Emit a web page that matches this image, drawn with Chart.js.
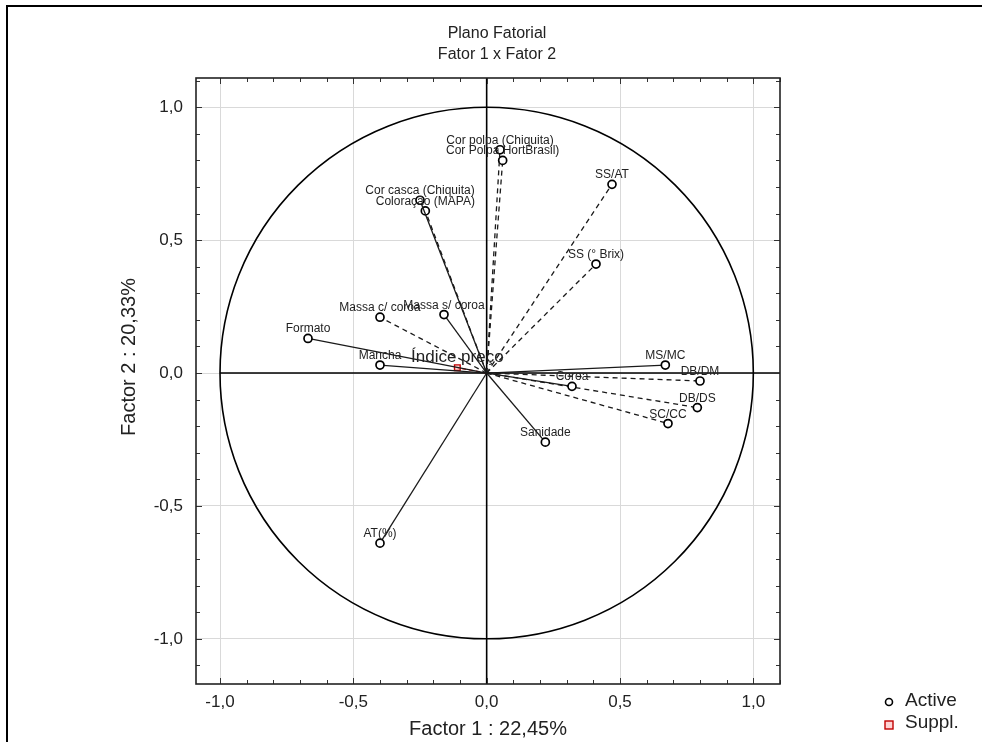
<!DOCTYPE html>
<html>
<head>
<meta charset="utf-8">
<script src="https://cdn.jsdelivr.net/npm/chart.js@4"></script>
<style>
  html, body { margin: 0; padding: 0; background: #fff; }
  #wrap { width: 982px; height: 742px; }
</style>
</head>
<body>
<div id="wrap"><canvas id="pca" width="982" height="742"></canvas></div>
<script>
// active variables (loadings on factor 1 and factor 2)
const varNames = ['Cor polpa (Chiquita)', 'Cor Polpa HortBrasil)', 'Cor casca (Chiquita)', 'Coloração (MAPA)',
  'SS/AT', 'SS (° Brix)', 'Massa c/ coroa', 'Massa s/ coroa', 'Formato', 'Mancha',
  'MS/MC', 'DB/DM', 'Coroa', 'DB/DS', 'SC/CC', 'Sanidade', 'AT(%)'];
const factor1 = [0.05, 0.06, -0.25, -0.23, 0.47, 0.41, -0.40, -0.16, -0.67, -0.40,
  0.67, 0.80, 0.32, 0.79, 0.68, 0.22, -0.40];
const factor2 = [0.84, 0.80, 0.65, 0.61, 0.71, 0.41, 0.21, 0.22, 0.13, 0.03,
  0.03, -0.03, -0.05, -0.13, -0.19, -0.26, -0.64];

// supplementary variable
const suppNames = ['Índice preço'];
const suppF1 = [-0.11];
const suppF2 = [0.02];

const tickValues = [-1, -0.5, 0, 0.5, 1];

// which vectors are drawn dashed in the original
const dashedVars = ['Cor polpa (Chiquita)', 'Cor Polpa HortBrasil)', 'Coloração (MAPA)', 'SS/AT', 'SS (° Brix)',
  'Massa c/ coroa', 'DB/DM', 'DB/DS', 'SC/CC'];

const FONT = '"Liberation Sans", Arial, sans-serif';
const fmt = v => v.toFixed(1).replace('.', ',');

const datasets = varNames.map((name, i) => ({
  label: name,
  data: [{ x: 0, y: 0 }, { x: factor1[i], y: factor2[i] }],
  showLine: true,
  borderColor: '#1a1a1a',
  borderWidth: 1.3,
  borderDash: dashedVars.includes(name) ? [5, 4] : [],
  pointRadius: [0, 4],
  pointStyle: 'circle',
  pointBorderColor: '#000',
  pointBackgroundColor: '#fff',
  pointBorderWidth: 1.7,
  labelFont: '12px ' + FONT
}));
suppNames.forEach((name, i) => datasets.push({
  label: name,
  data: [{ x: 0, y: 0 }, { x: suppF1[i], y: suppF2[i] }],
  showLine: true,
  borderColor: '#d02020',
  borderWidth: 1.3,
  borderDash: [4, 3],
  pointRadius: [0, 4],
  pointStyle: 'rect',
  pointBorderColor: '#c00000',
  pointBackgroundColor: 'rgba(255,170,170,0.5)',
  pointBorderWidth: 1.4,
  labelFont: '17px ' + FONT
}));

// circle, axes through origin, frame, minor ticks
const backdrop = {
  id: 'backdrop',
  beforeDatasetsDraw(chart) {
    const { ctx, chartArea: a, scales: { x, y } } = chart;
    const cx = x.getPixelForValue(0), cy = y.getPixelForValue(0);
    const rx = x.getPixelForValue(1) - cx, ry = cy - y.getPixelForValue(1);
    ctx.save();
    ctx.strokeStyle = '#000';
    ctx.lineWidth = 1.6;
    ctx.beginPath();
    ctx.ellipse(cx, cy, rx, ry, 0, 0, Math.PI * 2);
    ctx.stroke();
    ctx.beginPath();
    ctx.moveTo(x.getPixelForValue(-1), cy);
    ctx.lineTo(a.right, cy);
    ctx.moveTo(cx, a.top);
    ctx.lineTo(cx, a.bottom);
    ctx.stroke();
    ctx.restore();
  },
  afterDraw(chart) {
    const { ctx, chartArea: a, scales: { x, y } } = chart;
    ctx.save();
    ctx.strokeStyle = '#333';
    ctx.lineWidth = 1;
    ctx.beginPath();
    for (let k = -12; k <= 12; k++) {
      const v = k / 10;
      const len = k % 5 === 0 ? 6 : 4;
      if (v >= x.min && v <= x.max) {
        const px = Math.round(x.getPixelForValue(v)) + 0.5;
        ctx.moveTo(px, a.bottom); ctx.lineTo(px, a.bottom - len);
        ctx.moveTo(px, a.top); ctx.lineTo(px, a.top + len);
      }
      if (v >= y.min && v <= y.max) {
        const py = Math.round(y.getPixelForValue(v)) + 0.5;
        ctx.moveTo(a.left, py); ctx.lineTo(a.left + len, py);
        ctx.moveTo(a.right, py); ctx.lineTo(a.right - len, py);
      }
    }
    ctx.stroke();
    ctx.strokeStyle = '#222';
    ctx.lineWidth = 1.6;
    ctx.strokeRect(a.left, a.top, a.right - a.left, a.bottom - a.top);

    // outer picture frame
    ctx.strokeStyle = '#000';
    ctx.lineWidth = 2;
    ctx.beginPath();
    ctx.moveTo(7, 742); ctx.lineTo(7, 6); ctx.lineTo(982, 6);
    ctx.stroke();

    // titles
    ctx.fillStyle = '#222';
    ctx.textAlign = 'center';
    ctx.textBaseline = 'middle';
    ctx.font = '16px ' + FONT;
    ctx.fillText('Plano Fatorial', 497, 34);
    ctx.fillText('Fator 1 x Fator 2', 497, 55);
    ctx.font = '20px ' + FONT;
    ctx.fillText('Factor 1 : 22,45%', (a.left + a.right) / 2, 729);
    ctx.save();
    ctx.translate(129, 357);
    ctx.rotate(-Math.PI / 2);
    ctx.fillText('Factor 2 : 20,33%', 0, 0);
    ctx.restore();

    // legend
    ctx.textAlign = 'left';
    ctx.font = '19px ' + FONT;
    ctx.fillText('Active', 905, 701);
    ctx.fillText('Suppl.', 905, 723);
    ctx.lineWidth = 1.6;
    ctx.strokeStyle = '#000';
    ctx.beginPath();
    ctx.arc(889, 702, 3.5, 0, Math.PI * 2);
    ctx.stroke();
    ctx.fillStyle = 'rgba(255,170,170,0.5)';
    ctx.fillRect(885, 721, 8, 8);
    ctx.strokeStyle = '#c00000';
    ctx.lineWidth = 1.4;
    ctx.strokeRect(885, 721, 8, 8);
    ctx.restore();
  }
};

// variable names above their points
const pointLabels = {
  id: 'pointLabels',
  afterDatasetsDraw(chart) {
    const { ctx } = chart;
    ctx.save();
    ctx.fillStyle = '#222';
    ctx.textAlign = 'center';
    ctx.textBaseline = 'alphabetic';
    chart.data.datasets.forEach((ds, i) => {
      const p = chart.getDatasetMeta(i).data[1];
      ctx.font = ds.labelFont;
      ctx.fillText(ds.label, p.x, p.y - 6);
    });
    ctx.restore();
  }
};

new Chart(document.getElementById('pca'), {
  type: 'scatter',
  data: { datasets },
  plugins: [backdrop, pointLabels],
  options: {
    responsive: false,
    animation: false,
    layout: { padding: { left: 0, right: 202, top: 78, bottom: 0 } },
    plugins: { legend: { display: false }, tooltip: { enabled: false }, title: { display: false } },
    scales: {
      x: {
        type: 'linear', min: -1.09, max: 1.10,
        afterFit: s => { s.height = 58; },
        afterBuildTicks: s => { s.ticks = tickValues.map(v => ({ value: v })); },
        grid: { color: '#d9d9d9', lineWidth: 1, drawTicks: false },
        border: { display: false },
        ticks: { padding: 8, color: '#222', font: { family: FONT, size: 17 }, callback: fmt }
      },
      y: {
        type: 'linear', min: -1.17, max: 1.11,
        afterFit: s => { s.width = 196; },
        afterBuildTicks: s => { s.ticks = tickValues.map(v => ({ value: v })); },
        grid: { color: '#d9d9d9', lineWidth: 1, drawTicks: false },
        border: { display: false },
        ticks: { padding: 13, color: '#222', font: { family: FONT, size: 17 }, callback: fmt }
      }
    }
  }
});
</script>
</body>
</html>
